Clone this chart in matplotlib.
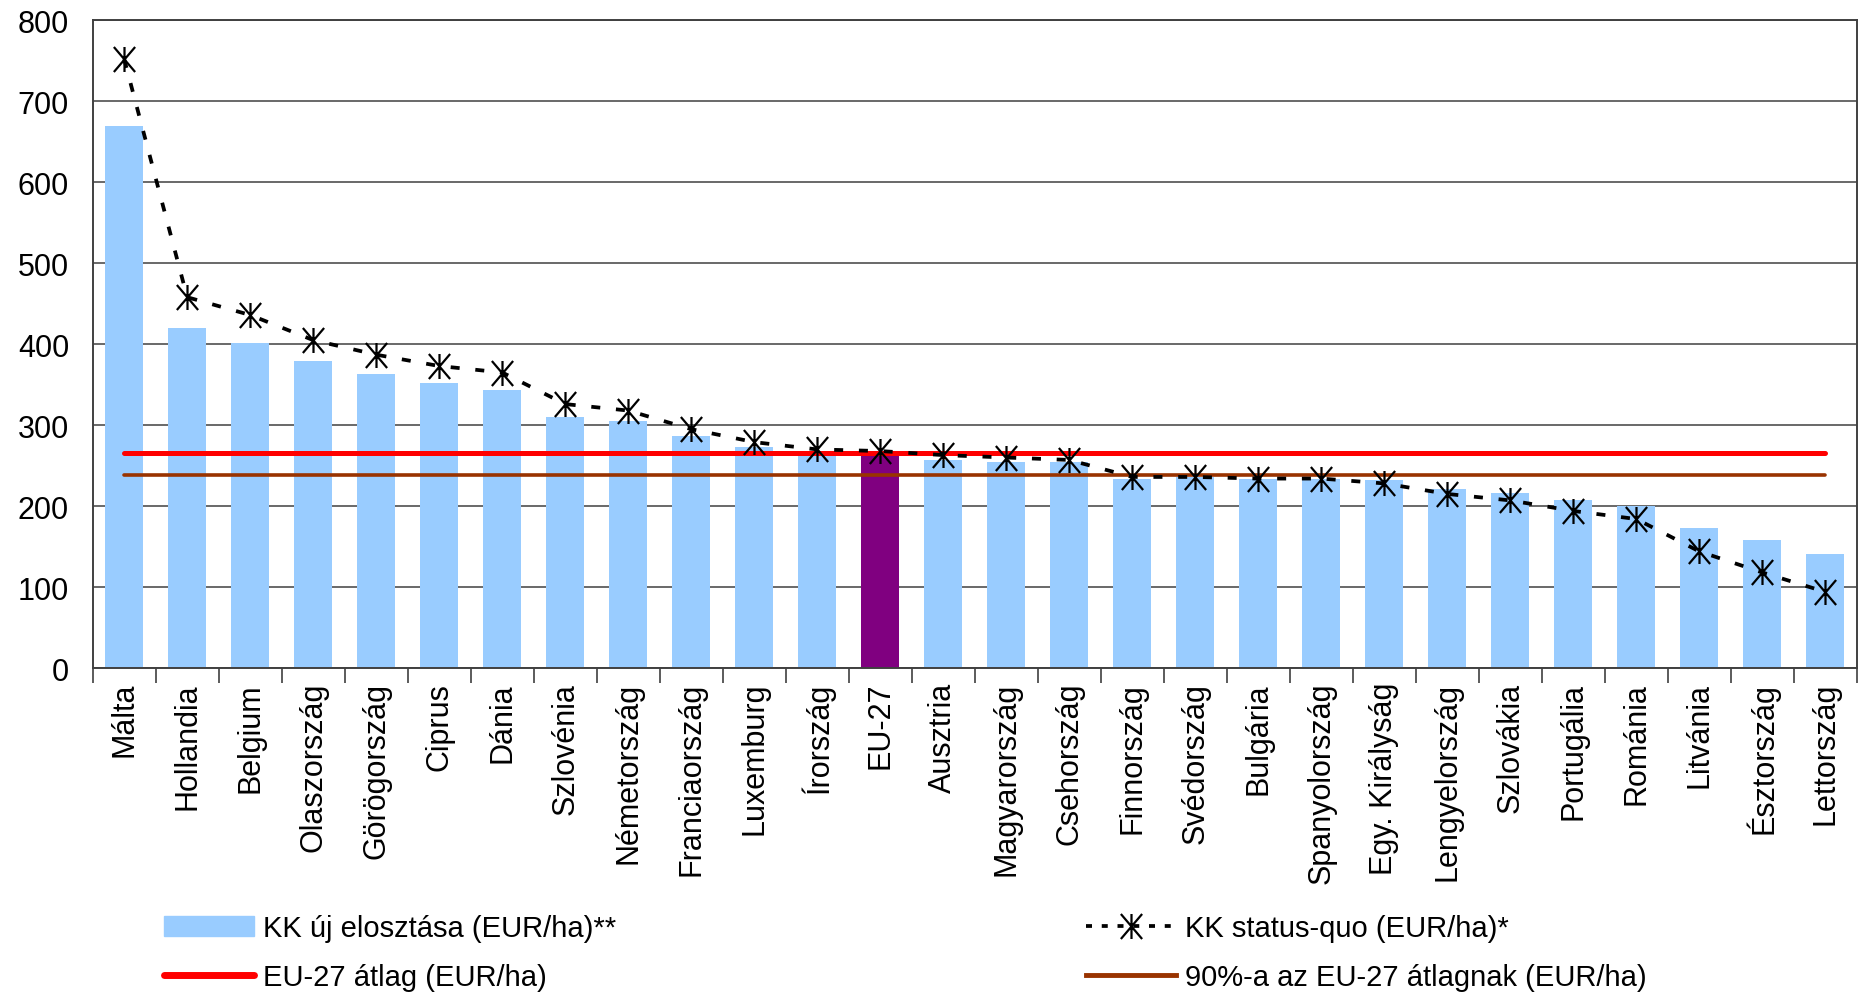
import matplotlib.pyplot as plt
import numpy as np
from matplotlib.path import Path
from matplotlib.lines import Line2D
from matplotlib.patches import Patch

plt.rcParams['font.family'] = ['Liberation Sans', 'DejaVu Sans']

# Országok és értékek (EUR/ha)
orszagok = ['Málta', 'Hollandia', 'Belgium', 'Olaszország', 'Görögország', 'Ciprus',
            'Dánia', 'Szlovénia', 'Németország', 'Franciaország', 'Luxemburg', 'Írország',
            'EU-27', 'Ausztria', 'Magyarország', 'Csehország', 'Finnország', 'Svédország',
            'Bulgária', 'Spanyolország', 'Egy. Királyság', 'Lengyelország', 'Szlovákia',
            'Portugália', 'Románia', 'Litvánia', 'Észtország', 'Lettország']
kk_uj = [670, 420, 402, 379, 363, 352, 344, 310, 305, 287, 273, 263, 263, 257, 255, 255,
         233, 236, 234, 234, 232, 221, 216, 207, 200, 173, 158, 141]
kk_status_quo = [752, 458, 436, 405, 387, 373, 365, 326, 318, 295, 279, 270, 268, 263, 260,
                 257, 236, 236, 234, 234, 228, 215, 207, 194, 184, 144, 118, 94]
eu_atlag = 265
eu_90 = 238.5

x = np.arange(len(orszagok))
szinek = ['#800080' if o == 'EU-27' else '#99CCFF' for o in orszagok]

# csillag jelölő (X + függőleges vonal)
csillag = Path([(0, -1), (0, 1), (-0.85, -1), (0.85, 1), (-0.85, 1), (0.85, -1)],
               [Path.MOVETO, Path.LINETO, Path.MOVETO, Path.LINETO, Path.MOVETO, Path.LINETO])

fig = plt.figure(figsize=(18.61, 9.95), dpi=100)
ax = fig.add_axes([0.0498, 0.3276, 0.948, 0.651])

ax.bar(x, kk_uj, width=0.6, color=szinek, zorder=2)
ax.plot(x, np.full(len(x), eu_atlag), color='#FF0000', lw=3.6, solid_capstyle='round', zorder=3)
ax.plot(x, np.full(len(x), eu_90), color='#993300', lw=2.6, solid_capstyle='round', zorder=3)
ax.plot(x, kk_status_quo, color='black', lw=2.7, linestyle=(0, (2.4, 4.2)),
        marker=csillag, markersize=18, markeredgewidth=1.6, markerfacecolor='none',
        markeredgecolor='black', zorder=4)

ax.set_xlim(-0.5, len(x) - 0.5)
ax.set_ylim(0, 800)
ax.set_yticks(range(0, 801, 100))
ax.yaxis.grid(True, color='#404040', lw=1.1, zorder=0)
ax.tick_params(axis='y', length=0, pad=17, labelsize=22)

ax.set_xticks(x)
ax.set_xticklabels(orszagok, rotation=90, fontsize=22)
ax.set_xticks(np.arange(-0.5, len(x), 1), minor=True)
ax.tick_params(axis='x', which='major', length=0, pad=10)
ax.tick_params(axis='x', which='minor', length=11, width=1.2, color='#404040', direction='out')

for s in ax.spines.values():
    s.set_color('#404040')
    s.set_linewidth(1.4)

h1 = [Patch(color='#99CCFF'), Line2D([], [], color='#FF0000', lw=5, solid_capstyle='round')]
h2 = [Line2D([], [], color='black', lw=2.7, linestyle=(0, (1.6, 2.6)), marker=csillag,
             markersize=18, markeredgewidth=1.6, markerfacecolor='none', markeredgecolor='black'),
      Line2D([], [], color='#993300', lw=3.5)]
leg1 = fig.legend(h1, ['KK új elosztása (EUR/ha)**', 'EU-27 átlag (EUR/ha)'],
                  loc='upper left', bbox_to_anchor=(0.088, 0.080), frameon=False,
                  fontsize=21, handlelength=3.1, handletextpad=0.3, labelspacing=0.72,
                  borderpad=0, borderaxespad=0)
leg2 = fig.legend(h2, ['KK status-quo (EUR/ha)*', '90%-a az EU-27 átlagnak (EUR/ha)'],
                  loc='upper left', bbox_to_anchor=(0.5836, 0.080), frameon=False,
                  fontsize=21, handlelength=3.1, handletextpad=0.3, labelspacing=0.72,
                  borderpad=0, borderaxespad=0)

fig.savefig('out.png', dpi=100)
